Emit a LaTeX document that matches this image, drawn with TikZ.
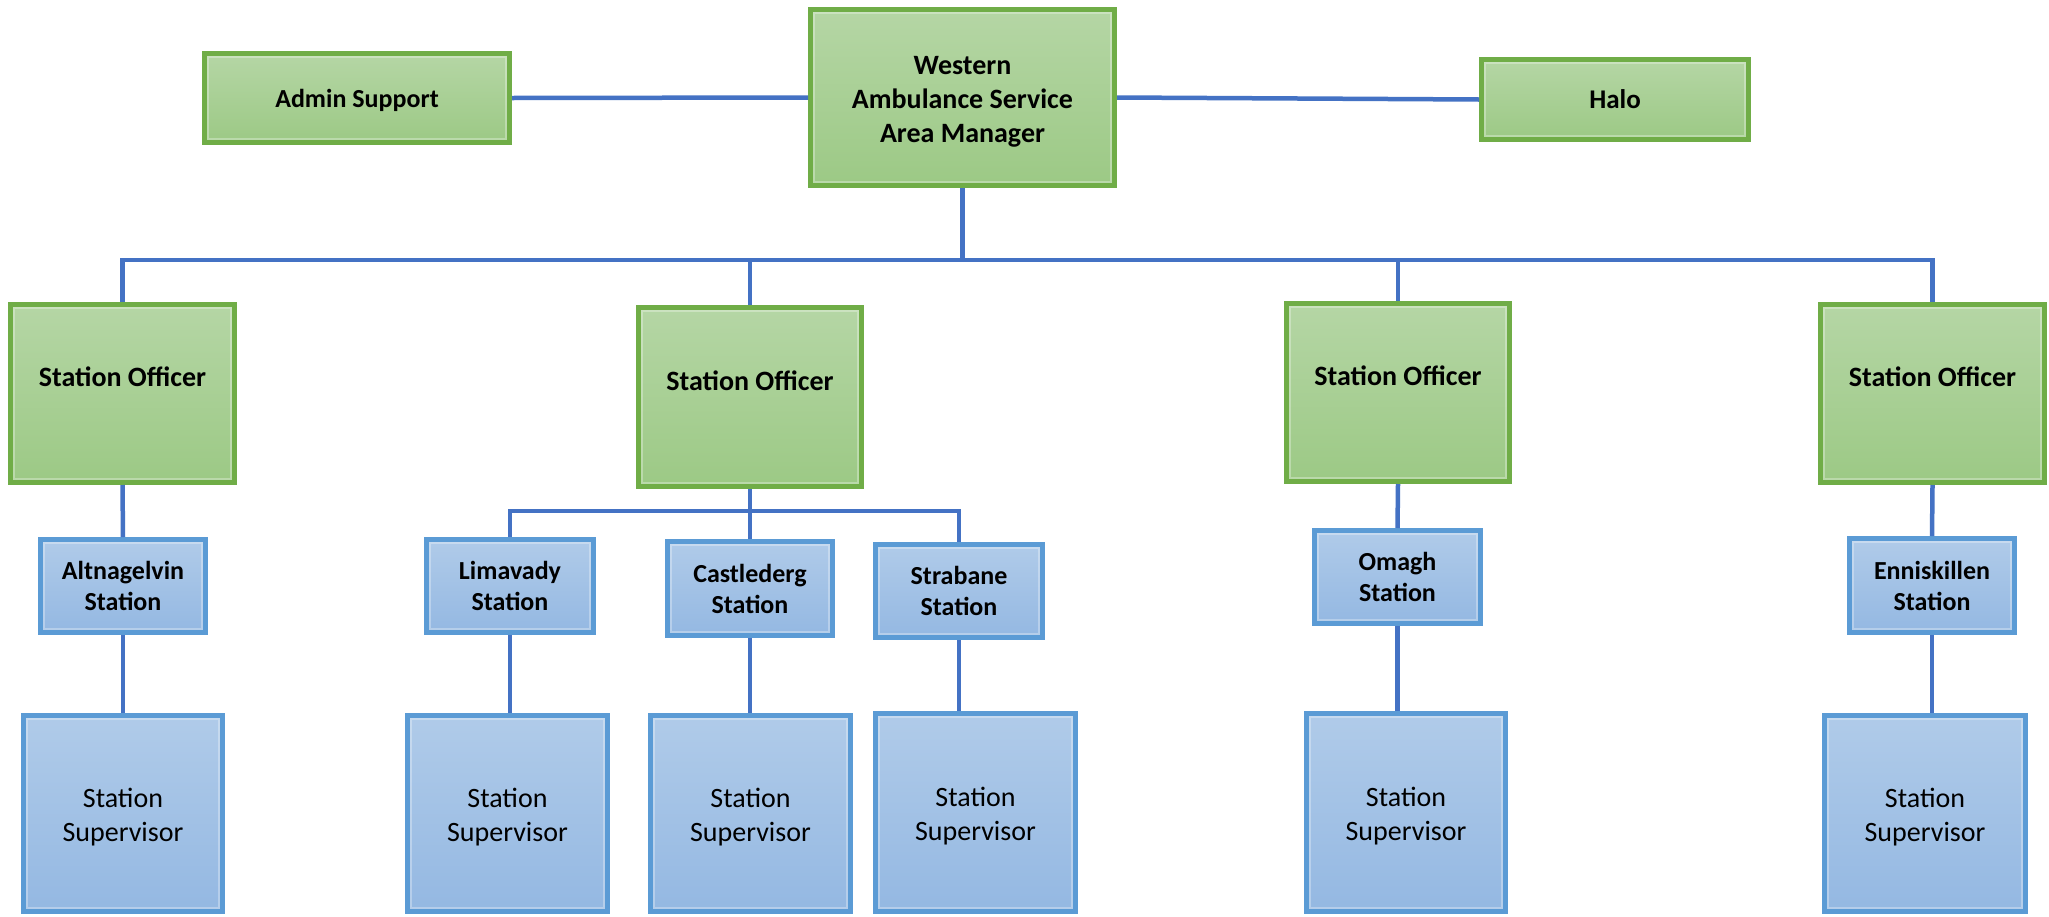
\documentclass[tikz,border=0pt]{standalone}
\usepackage{fontspec}
\setmainfont{Carlito}
\definecolor{gtop}{HTML}{B5D6A5}
\definecolor{gbot}{HTML}{9CC985}
\definecolor{gborder}{HTML}{70AD47}
\definecolor{btop}{HTML}{B0CBE9}
\definecolor{bbot}{HTML}{94B8E2}
\definecolor{bborder}{HTML}{5B9BD5}
\definecolor{conncol}{HTML}{4472C4}
\tikzset{
  box/.style={rectangle, inner sep=0pt, line width=5pt, align=center,
    path picture={\draw[white, opacity=0.3, line width=2pt]
      ([shift={(3.5pt,3.5pt)}]path picture bounding box.south west) rectangle
      ([shift={(-3.5pt,-3.5pt)}]path picture bounding box.north east);}},
  greenbox/.style={box, draw=gborder, top color=gtop, bottom color=gbot,
    font=\fontsize{28}{34}\selectfont\bfseries},
  stationbox/.style={box, draw=bborder, top color=btop, bottom color=bbot,
    font=\fontsize{26}{31}\selectfont\bfseries},
  supbox/.style={box, draw=bborder, top color=btop, bottom color=bbot,
    font=\fontsize{28}{34}\selectfont},
  officer/.style={greenbox, text depth=33pt},
  conn/.style={draw=conncol, line width=4.5pt},
}
\newcommand{\lift}{\rule{0pt}{27pt}}
\begin{document}
\begin{tikzpicture}[x=1pt,y=-1pt]
\useasboundingbox (0,0) rectangle (2049,916);
\fill[white] (0,0) rectangle (2049,916);
% top row
\node[greenbox, minimum width=304pt, minimum height=176pt] (mgr) at (962.5,97.5) {\lift Western\\Ambulance Service\\Area Manager};
\node[greenbox, font=\fontsize{26}{32}\selectfont\bfseries, text height=23pt, minimum width=305pt, minimum height=89pt] (admin) at (357,98) {Admin Support};
\node[greenbox, font=\fontsize{27}{32}\selectfont\bfseries, minimum width=267pt, minimum height=80pt] (halo) at (1615,99.5) {Halo};
% station officers
\node[officer, minimum width=224pt, minimum height=178pt] (so1) at (122.5,393.5) {Station Officer};
\node[officer, minimum width=223pt, minimum height=179pt] (so2) at (750,397) {Station Officer};
\node[officer, minimum width=223pt, minimum height=178pt] (so3) at (1398,392.5) {Station Officer};
\node[officer, minimum width=224pt, minimum height=178pt] (so4) at (1932.5,393.5) {Station Officer};
% stations
\node[stationbox, minimum width=165pt, minimum height=93pt] (alt) at (123,586) {Altnagelvin\\Station};
\node[stationbox, minimum width=167pt, minimum height=93pt] (lim) at (510,586) {Limavady\\Station};
\node[stationbox, minimum width=165pt, minimum height=94pt] (cas) at (750,588.5) {Castlederg\\Station};
\node[stationbox, minimum width=167pt, minimum height=93pt] (stra) at (959,591) {Strabane\\Station};
\node[stationbox, minimum width=166pt, minimum height=93pt] (oma) at (1397.5,577) {Omagh\\Station};
\node[stationbox, minimum width=165pt, minimum height=94pt] (enn) at (1932,585.5) {Enniskillen\\Station};
% supervisors
\node[supbox, minimum width=199pt, minimum height=196pt] (altss) at (123,813.5) {\lift Station\\Supervisor};
\node[supbox, minimum width=200pt, minimum height=196pt] (limss) at (507.5,813.5) {\lift Station\\Supervisor};
\node[supbox, minimum width=200pt, minimum height=196pt] (casss) at (750.5,813.5) {\lift Station\\Supervisor};
\node[supbox, minimum width=200pt, minimum height=198pt] (strass) at (975.5,812.5) {\lift Station\\Supervisor};
\node[supbox, minimum width=199pt, minimum height=198pt] (omass) at (1406,812.5) {\lift Station\\Supervisor};
\node[supbox, minimum width=201pt, minimum height=196pt] (ennss) at (1925,813.5) {\lift Station\\Supervisor};
% connectors
\coordinate (bus) at (0,260);
\coordinate (sub) at (0,511);
\draw[conn] (admin.east) -- (mgr.west);
\draw[conn] (mgr.east) -- (halo.west);
\draw[conn] (mgr.south) -- (mgr.south |- bus);
\draw[conn] (so1.north) -- (so1.north |- bus) -- (so4.north |- bus) -- (so4.north);
\draw[conn] (so2.north |- bus) -- (so2.north);
\draw[conn] (so3.north |- bus) -- (so3.north);
\draw[conn] (so1.south) -- (alt.north);
\draw[conn] (so2.south) -- (so2.south |- sub);
\draw[conn] (lim.north) -- (lim.north |- sub) -- (stra.north |- sub) -- (stra.north);
\draw[conn] (cas.north |- sub) -- (cas.north);
\draw[conn] (so3.south) -- (oma.north);
\draw[conn] (so4.south) -- (enn.north);
\draw[conn] (alt.south) -- (alt.south |- altss.north);
\draw[conn] (lim.south) -- (lim.south |- limss.north);
\draw[conn] (cas.south) -- (cas.south |- casss.north);
\draw[conn] (stra.south) -- (stra.south |- strass.north);
\draw[conn] (oma.south) -- (oma.south |- omass.north);
\draw[conn] (enn.south) -- (enn.south |- ennss.north);
\end{tikzpicture}
\end{document}
